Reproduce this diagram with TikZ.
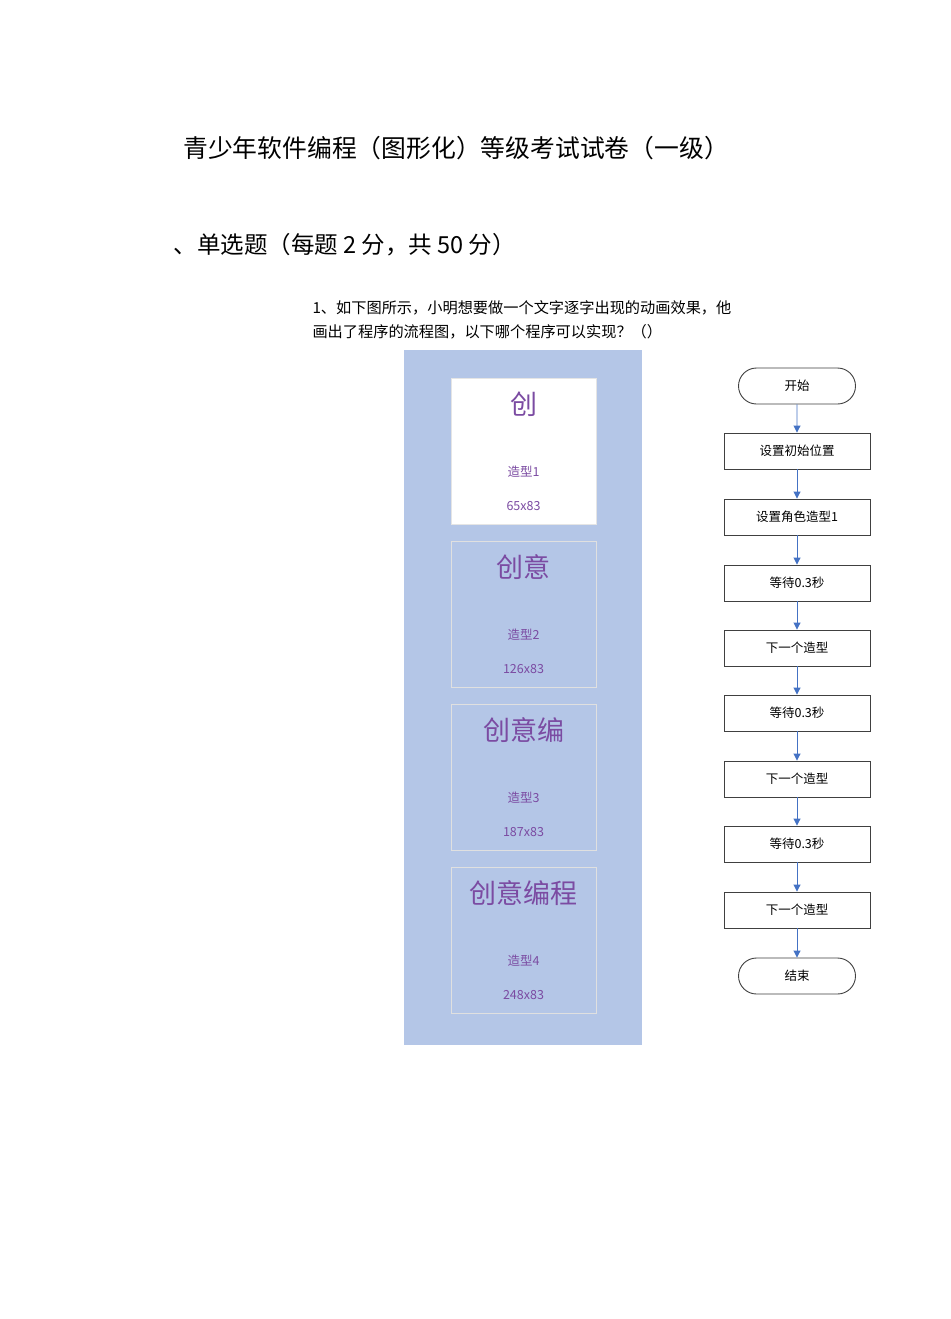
\documentclass[tikz,border=0pt]{standalone}
\usepackage{fontspec}
\setmainfont{Noto Sans CJK SC}
\usetikzlibrary{arrows.meta,shapes.misc}
\definecolor{pan}{HTML}{B4C6E7}
\definecolor{pur}{HTML}{7B4BA2}
\definecolor{arr}{HTML}{4472C4}
\tikzset{
 card/.style={draw=black!12,line width=0.8pt},
 big/.style={text=pur,font=\fontsize{27}{29}\selectfont},
 sm/.style={text=pur,font=\fontsize{12.5}{14}\selectfont},
 fbox/.style={draw=black!75,line width=0.9pt,minimum width=146pt,minimum height=36pt,font=\fontsize{12.5}{14}\selectfont,inner sep=0pt},
 term/.style={fbox,rounded rectangle,minimum width=117pt},
 flow/.style={draw=arr,line width=0.9pt,-{Triangle[length=7pt,width=7pt]}}
}
\begin{document}
\begin{tikzpicture}[x=1pt,y=-1pt]
\useasboundingbox[fill=white] (0,0) rectangle (950,1319);
\node[font=\fontsize{24.8}{28}\selectfont] (title) at (456,148) {青少年软件编程（图形化）等级考试试卷（一级）};
\node[anchor=west,font=\fontsize{23.5}{27}\selectfont] (head) at (170,245) {、单选题（每题 2 分，共 50 分）};
\node[anchor=west,font=\fontsize{15.2}{18}\selectfont] (q1) at (309,308) {1、如下图所示，小明想要做一个文字逐字出现的动画效果，他};
\node[anchor=west,font=\fontsize{15.2}{18}\selectfont] (q2) at (309,332) {画出了程序的流程图，以下哪个程序可以实现？（）};
\fill[pan] (404,350) rectangle (642,1045);
\fill[white,draw=black!10] (451,378) rectangle (596,524);
\draw[card] (451,541) rectangle (596,687);
\draw[card] (451,704) rectangle (596,850);
\draw[card] (451,867) rectangle (596,1013);
\foreach \y/\t/\n/\s in {378/创/1/65x83,541/创意/2/126x83,704/创意编/3/187x83,867/创意编程/4/248x83}{
 \node[big] (b\n) at (523.5,\y+26) {\t};
 \node[sm] (c\n) at (523.5,\y+94) {造型\n};
 \node[sm] (d\n) at (523.5,\y+128) {\s};
}
\node[term] (s0) at (797,386) {开始};
\node[fbox] (s1) at (797,451) {设置初始位置};
\node[fbox] (s2) at (797,517) {设置角色造型1};
\node[fbox] (s3) at (797,583) {等待0.3秒};
\node[fbox] (s4) at (797,648) {下一个造型};
\node[fbox] (s5) at (797,713) {等待0.3秒};
\node[fbox] (s6) at (797,779) {下一个造型};
\node[fbox] (s7) at (797,844) {等待0.3秒};
\node[fbox] (s8) at (797,910) {下一个造型};
\node[term] (s9) at (797,976) {结束};
\foreach \a/\b in {s0/s1,s1/s2,s2/s3,s3/s4,s4/s5,s5/s6,s6/s7,s7/s8,s8/s9}
 \draw[flow] (\a) -- (\b);
\end{tikzpicture}
\end{document}
